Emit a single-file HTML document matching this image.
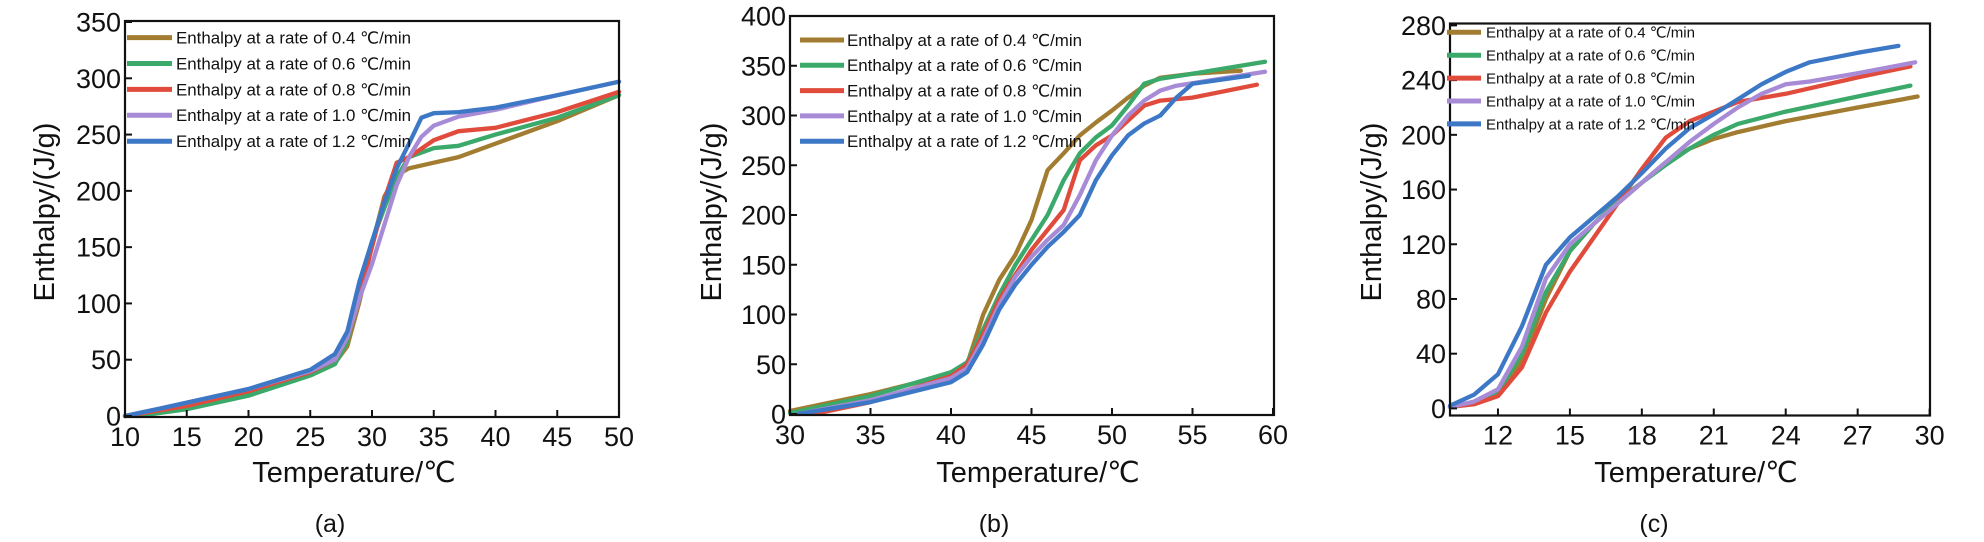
<!DOCTYPE html>
<html><head><meta charset="utf-8">
<style>
html,body{margin:0;padding:0;background:#fff;}
svg{display:block;font-family:"Liberation Sans","DejaVu Sans",sans-serif;}
</style></head>
<body>
<svg id="fig" width="1984" height="542" viewBox="0 0 1984 542" xmlns="http://www.w3.org/2000/svg"></svg>
<script>
const seriesLabels = ["0.4","0.6","0.8","1.0","1.2"];
const seriesColors = ["#a27c30","#3aa96a","#e04b3c","#a88bd6","#3d78c6"];

// Panel (a)
const aXTicks = [10,15,20,25,30,35,40,45,50];
const aYTicks = [0,50,100,150,200,250,300,350];
const aS04 = [[10,0],[12,2],[15,8],[20,20],[25,37],[27,47],[28,62],[29,102],[30,152],[31,195],[32,214],[33,220],[35,225],[37,230],[40,242],[45,262],[50,285]];
const aS06 = [[11,0],[15,6],[20,18],[25,36],[27,46],[28,66],[29,118],[30,155],[31,185],[32,212],[33,230],[35,238],[37,240],[40,250],[45,265],[50,285]];
const aS08 = [[10,0],[15,9],[20,22],[25,39],[27,50],[28,70],[29,110],[30,150],[31,192],[32,225],[33,230],[35,245],[37,253],[40,256],[45,270],[50,288]];
const aS10 = [[10,0],[13,7],[20,24],[25,40],[27,50],[28,70],[29,105],[30,135],[31,170],[32,205],[33,230],[34,248],[35,258],[37,266],[40,272],[45,285],[50,297]];
const aS12 = [[10,0],[13,7],[20,24],[25,41],[27,55],[28,75],[29,120],[30,155],[31,190],[32,220],[33,242],[34,265],[35,269],[37,270],[40,274],[45,285],[50,297]];

// Panel (b)
const bXTicks = [30,35,40,45,50,55,60];
const bYTicks = [0,50,100,150,200,250,300,350,400];
const bS04 = [[30,3],[35,20],[40,40],[41,50],[42,100],[43,135],[44,160],[45,195],[46,245],[47,262],[48,280],[49,293],[50,305],[51,318],[52,330],[53,338],[55,342],[58,345]];
const bS06 = [[30,1],[35,18],[40,42],[41,52],[42,85],[43,120],[44,150],[45,175],[46,200],[47,235],[48,262],[49,278],[50,290],[51,310],[52,332],[53,337],[55,342],[59.5,354]];
const bS08 = [[31.5,0],[35,12],[40,38],[41,50],[42,80],[43,115],[44,140],[45,165],[46,185],[47,205],[48,255],[49,270],[50,280],[51,295],[52,310],[53,315],[55,318],[59,331]];
const bS10 = [[30.5,0],[35,14],[40,36],[41,46],[42,75],[43,110],[44,138],[45,158],[46,175],[47,190],[48,220],[49,255],[50,280],[51,300],[52,315],[53,325],[54,330],[59.5,344]];
const bS12 = [[30.5,0],[35,12],[40,32],[41,42],[42,70],[43,105],[44,130],[45,150],[46,168],[47,183],[48,200],[49,235],[50,260],[51,280],[52,292],[53,300],[54,318],[55,332],[58.5,340]];

// Panel (c)
const cXTicks = [12,15,18,21,24,27,30];
const cYTicks = [0,40,80,120,160,200,240,280];
const cS04 = [[10,1],[11,4],[12,10],[13,35],[14,80],[15,115],[16,135],[17,150],[18,165],[19,180],[20,190],[21,197],[22,202],[24,210],[27,220],[29.5,228]];
const cS06 = [[10,1],[11,4],[12,12],[13,40],[14,85],[15,115],[16,135],[17,152],[18,165],[19,178],[20,190],[21,200],[22,208],[24,217],[27,228],[29.2,236]];
const cS08 = [[10,1],[11,3],[12,9],[13,30],[14,70],[15,100],[16,125],[17,150],[18,175],[19,198],[20,210],[21,217],[22,224],[24,230],[27,242],[29.2,250]];
const cS10 = [[10,1],[11,5],[12,14],[13,45],[14,95],[15,120],[16,135],[17,150],[18,165],[19,180],[20,195],[21,208],[22,220],[23,230],[24,237],[25,239],[27,245],[29.4,253]];
const cS12 = [[10,2],[11,10],[12,25],[13,60],[14,105],[15,125],[16,140],[17,155],[18,172],[19,190],[20,205],[21,215],[22,226],[23,237],[24,246],[25,253],[27,260],[28.7,265]];

const NS = "http://www.w3.org/2000/svg";
const svg = document.getElementById('fig');
function mk(tag, attrs, parent){
  const e = document.createElementNS(NS, tag);
  for (const k in attrs) e.setAttribute(k, attrs[k]);
  (parent||svg).appendChild(e);
  return e;
}

function panel(cfg){
  const g = mk('g', {});
  
  
  const xs = v => cfg.px0 + (v - cfg.x0) / (cfg.x1 - cfg.x0) * (cfg.px1 - cfg.px0);
  const ys = v => cfg.py0 + (v - cfg.y0) / (cfg.y1 - cfg.y0) * (cfg.py1 - cfg.py0);

  cfg.series.forEach((s, i) => {
    const d = s.map((p, j) => (j ? 'L' : 'M') + xs(p[0]).toFixed(1) + ' ' + ys(p[1]).toFixed(1)).join(' ');
    const path = mk('path', {d: d, fill: 'none', stroke: seriesColors[i], 'stroke-width': 4.3, 'stroke-linejoin': 'round', 'stroke-linecap': 'round'}, g);
    
    
  });

  const fr = mk('rect', {x: cfg.fl, y: cfg.ft, width: cfg.fr - cfg.fl, height: cfg.fb - cfg.ft, fill: 'none', stroke: '#111', 'stroke-width': 2.2}, g);
  
  

  cfg.xticks.forEach(t => {
    const x = xs(t);
    const tk = mk('line', {x1: x, x2: x, y1: cfg.fb, y2: cfg.fb - 7, stroke: '#111', 'stroke-width': 2}, g);
    
    
    const tl = mk('text', {x: x, y: cfg.fb + 29, 'text-anchor': 'middle', 'font-size': 27, fill: '#111'}, g);
    tl.textContent = t;
    
    
  });
  cfg.yticks.forEach(t => {
    const y = ys(t);
    const tk = mk('line', {x1: cfg.fl, x2: cfg.fl + 7, y1: y, y2: y, stroke: '#111', 'stroke-width': 2}, g);
    
    
    const tl = mk('text', {x: cfg.fl - 4, y: y + 9.5, 'text-anchor': 'end', 'font-size': 27, fill: '#111'}, g);
    tl.textContent = t;
    
    
  });

  const xt = mk('text', {x: cfg.xtx, y: 482, 'text-anchor': 'middle', 'font-size': 29, fill: '#111'}, g);
  xt.textContent = 'Temperature/℃';
  
  
  const yt = mk('text', {x: 0, y: 0, 'text-anchor': 'middle', 'font-size': 29, fill: '#111', transform: 'translate(' + (cfg.ytx + 10) + ',' + cfg.yty + ') rotate(-90)'}, g);
  yt.textContent = 'Enthalpy/(J/g)';
  
  
  const cap = mk('text', {x: cfg.capx, y: 532, 'text-anchor': 'middle', 'font-size': 25, fill: '#111'}, g);
  cap.textContent = '(' + cfg.id + ')';
  
  

  seriesLabels.forEach((lab, i) => {
    const y = cfg.leg.y0 + i * cfg.leg.dy;
    const ln = mk('line', {x1: cfg.leg.lx0, x2: cfg.leg.lx1, y1: y, y2: y, stroke: seriesColors[i], 'stroke-width': 5}, g);
    
    
    const tx = mk('text', {x: cfg.leg.tx, y: y + cfg.leg.fs * 0.36, 'font-size': cfg.leg.fs, fill: '#111', textLength: cfg.leg.tw, lengthAdjust: 'spacingAndGlyphs'}, g);
    tx.textContent = 'Enthalpy at a rate of  ' + lab + ' ℃/min';
    
    
  });
}

panel({id: 'a', x0: 10, x1: 50, px0: 125, px1: 619, y0: 0, y1: 350, py0: 416, py1: 22,
  fl: 125, fr: 619, ft: 21, fb: 417, xticks: aXTicks, yticks: aYTicks,
  series: [aS04, aS06, aS08, aS10, aS12], xtx: 354, ytx: 44, yty: 212, capx: 330,
  leg: {y0: 37.6, dy: 25.9, lx0: 127, lx1: 172, tx: 176, tw: 235, fs: 16.5}});
panel({id: 'b', x0: 30, x1: 60, px0: 790, px1: 1273, y0: 0, y1: 400, py0: 414, py1: 16,
  fl: 790, fr: 1274, ft: 16, fb: 415, xticks: bXTicks, yticks: bYTicks,
  series: [bS04, bS06, bS08, bS10, bS12], xtx: 1038, ytx: 711, yty: 212, capx: 994,
  leg: {y0: 40, dy: 25.3, lx0: 800, lx1: 844, tx: 847, tw: 235, fs: 16.5}});
panel({id: 'c', x0: 10, x1: 30, px0: 1450, px1: 1929.6, y0: 0, y1: 280, py0: 408.4, py1: 25.4,
  fl: 1450, fr: 1930, ft: 23.5, fb: 415.5, xticks: cXTicks, yticks: cYTicks,
  series: [cS04, cS06, cS08, cS10, cS12], xtx: 1696, ytx: 1371, yty: 212, capx: 1654,
  leg: {y0: 32.3, dy: 22.9, lx0: 1447, lx1: 1481, tx: 1486, tw: 209, fs: 15}});
</script>
</body></html>
